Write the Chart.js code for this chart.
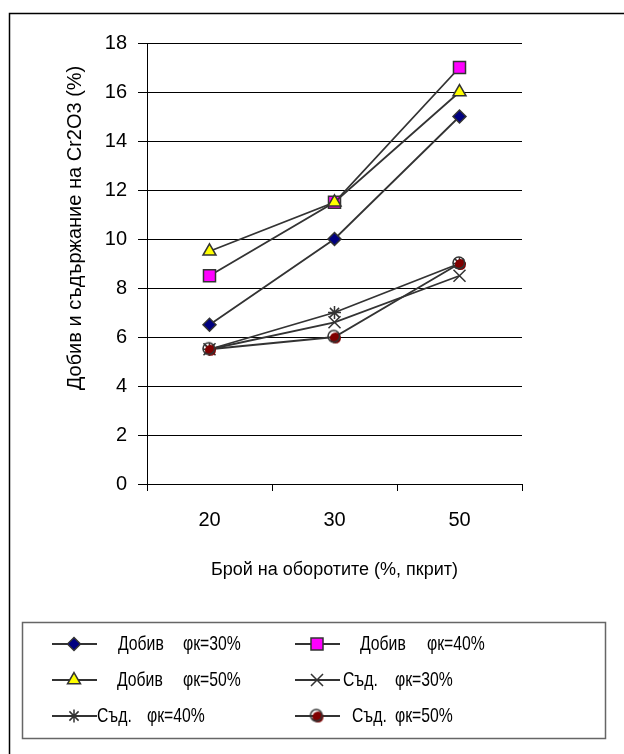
<!DOCTYPE html>
<html>
<head>
<meta charset="utf-8">
<script src="https://cdn.jsdelivr.net/npm/chart.js@4.4.0/dist/chart.umd.min.js"></script>
<style>
  html, body { margin: 0; padding: 0; background: #fff; }
</style>
</head>
<body>
<canvas id="myChart" width="624" height="754"></canvas>
<script>
// categories (x) and series values
const categories = ['20', '30', '50'];
const dobiv30 = [6.5, 10, 15];
const dobiv40 = [8.5, 11.5, 17];
const dobiv50 = [9.5, 11.5, 16];
const sad30 = [5.5, 6.6, 8.5];
const sad40 = [5.5, 7, 9];
const sad50 = [5.5, 6, 9];
const yTicks = [0, 2, 4, 6, 8, 10, 12, 14, 16, 18];

const legendNames = ['Добив', 'Добив', 'Добив', 'Съд.', 'Съд.', 'Съд.'];
const legendParams = ['φк=30%', 'φк=40%', 'φк=50%', 'φк=30%', 'φк=40%', 'φк=50%'];
const yTitle = 'Добив и съдържание на Cr2O3 (%)';
const xTitle = 'Брой на оборотите (%, пкрит)';

const FONT = "'Liberation Sans', Arial, sans-serif";
const LINE = '#333';

// circle with a shifted dark red fill, like the original marker
function makeCircleMarker() {
    const c = document.createElement('canvas');
    c.width = 17; c.height = 17;
    const g = c.getContext('2d');
    g.fillStyle = '#800000';
    g.beginPath(); g.arc(9.5, 9.5, 5.5, 0, Math.PI * 2); g.fill();
    g.strokeStyle = LINE; g.lineWidth = 1.6;
    g.beginPath(); g.arc(7.8, 7.8, 5.8, 0, Math.PI * 2); g.stroke();
    return c;
}
const circleMarker = makeCircleMarker();

const seriesData = [dobiv30, dobiv40, dobiv50, sad30, sad40, sad50];
const pointStyles = ['rectRot', 'rect', 'triangle', 'crossRot', 'star', circleMarker];
const pointFills = ['#000080', '#ff00ff', '#ffff00', LINE, LINE, '#800000'];
const pointSizes = [6.5, 8.5, 7.5, 8.5, 6.5, 8];

const datasets = seriesData.map((vals, i) => ({
    label: legendNames[i] + ' ' + legendParams[i],
    data: vals,
    borderColor: LINE,
    borderWidth: 1.8,
    pointStyle: pointStyles[i],
    pointRadius: pointSizes[i],
    pointHoverRadius: pointSizes[i],
    pointBackgroundColor: pointFills[i],
    pointBorderColor: LINE,
    pointBorderWidth: 1.5,
    order: seriesData.length - i,
    fill: false,
    tension: 0
}));

// legend placement (two columns, three rows)
const legendRows = [644, 680, 716];
const legendCols = [52, 295];
const legendTextX = [[118, 183], [360, 427], [117, 183], [343, 395], [97, 147], [352, 395]];

function drawMarker(ctx, i, x, y) {
    ctx.save();
    ctx.fillStyle = pointFills[i];
    ctx.strokeStyle = LINE;
    ctx.lineWidth = 1.5;
    Chart.helpers.drawPoint(ctx, {
        pointStyle: pointStyles[i],
        radius: pointSizes[i],
        rotation: 0,
        borderWidth: 1.5
    }, x, y);
    ctx.restore();
}

// narrow text, like the Arial Narrow of the original
function narrowText(ctx, text, x, y) {
    ctx.save();
    ctx.translate(x, y);
    ctx.scale(0.75, 1);
    ctx.fillText(text, 0, 0);
    ctx.restore();
}

const framePlugin = {
    id: 'frame',
    beforeDraw(chart) {
        const ctx = chart.ctx;
        ctx.save();
        ctx.fillStyle = '#fff';
        ctx.fillRect(0, 0, chart.width, chart.height);
        ctx.strokeStyle = '#000';
        ctx.lineWidth = 1.5;
        ctx.beginPath();
        ctx.moveTo(9.5, chart.height);
        ctx.lineTo(9.5, 13.5);
        ctx.lineTo(chart.width, 13.5);
        ctx.stroke();
        ctx.restore();
    },
    afterDraw(chart) {
        const ctx = chart.ctx;
        ctx.save();

        // y axis title
        ctx.fillStyle = '#000';
        ctx.font = '20px ' + FONT;
        ctx.textAlign = 'center';
        ctx.textBaseline = 'middle';
        ctx.save();
        ctx.translate(75, 228);
        ctx.rotate(-Math.PI / 2);
        ctx.fillText(yTitle, 0, 0);
        ctx.restore();

        // legend
        ctx.strokeStyle = '#666';
        ctx.lineWidth = 1.5;
        ctx.strokeRect(22.5, 622.5, 583, 116);

        ctx.font = '21px ' + FONT;
        ctx.textAlign = 'left';
        ctx.textBaseline = 'middle';
        for (let i = 0; i < datasets.length; i++) {
            const y = legendRows[Math.floor(i / 2)];
            const x0 = legendCols[i % 2];
            ctx.strokeStyle = LINE;
            ctx.lineWidth = 1.8;
            ctx.beginPath();
            ctx.moveTo(x0, y);
            ctx.lineTo(x0 + 45, y);
            ctx.stroke();
            drawMarker(ctx, i, x0 + 22, y);
            ctx.fillStyle = '#000';
            narrowText(ctx, legendNames[i], legendTextX[i][0], y);
            narrowText(ctx, legendParams[i], legendTextX[i][1], y);
        }
        ctx.restore();
    }
};

const ctx = document.getElementById('myChart').getContext('2d');

const myChart = new Chart(ctx, {
    type: 'line',
    data: {
        labels: categories,
        datasets: datasets
    },
    plugins: [framePlugin],
    options: {
        responsive: false,
        animation: false,
        layout: {
            padding: { top: 43, right: 102, bottom: 160, left: 0 }
        },
        plugins: {
            legend: { display: false },
            tooltip: { enabled: false }
        },
        scales: {
            x: {
                type: 'category',
                offset: true,
                grid: {
                    offset: true,
                    drawOnChartArea: true,
                    color: (c) => (c.index === 0 || c.index === categories.length) ? '#000' : 'rgba(0,0,0,0)',
                    tickColor: '#000',
                    tickLength: 7,
                    lineWidth: 1
                },
                border: { display: true, color: '#000', width: 1 },
                ticks: {
                    color: '#000',
                    font: { family: FONT, size: 20 },
                    padding: 17,
                    maxRotation: 0
                },
                title: {
                    display: true,
                    text: xTitle,
                    color: '#000',
                    font: { family: FONT, size: 18 },
                    padding: { top: 0, bottom: 13 }
                },
                afterFit: (s) => { s.height = 110; }
            },
            y: {
                min: 0,
                max: 18,
                afterBuildTicks: (s) => { s.ticks = yTicks.map(v => ({ value: v })); },
                grid: {
                    color: '#000',
                    tickColor: '#000',
                    tickLength: 9,
                    lineWidth: 1
                },
                border: { display: true, color: '#000', width: 1 },
                ticks: {
                    color: '#000',
                    font: { family: FONT, size: 20 },
                    padding: 11
                },
                afterFit: (s) => { s.width = 147; }
            }
        }
    }
});
</script>
</body>
</html>
